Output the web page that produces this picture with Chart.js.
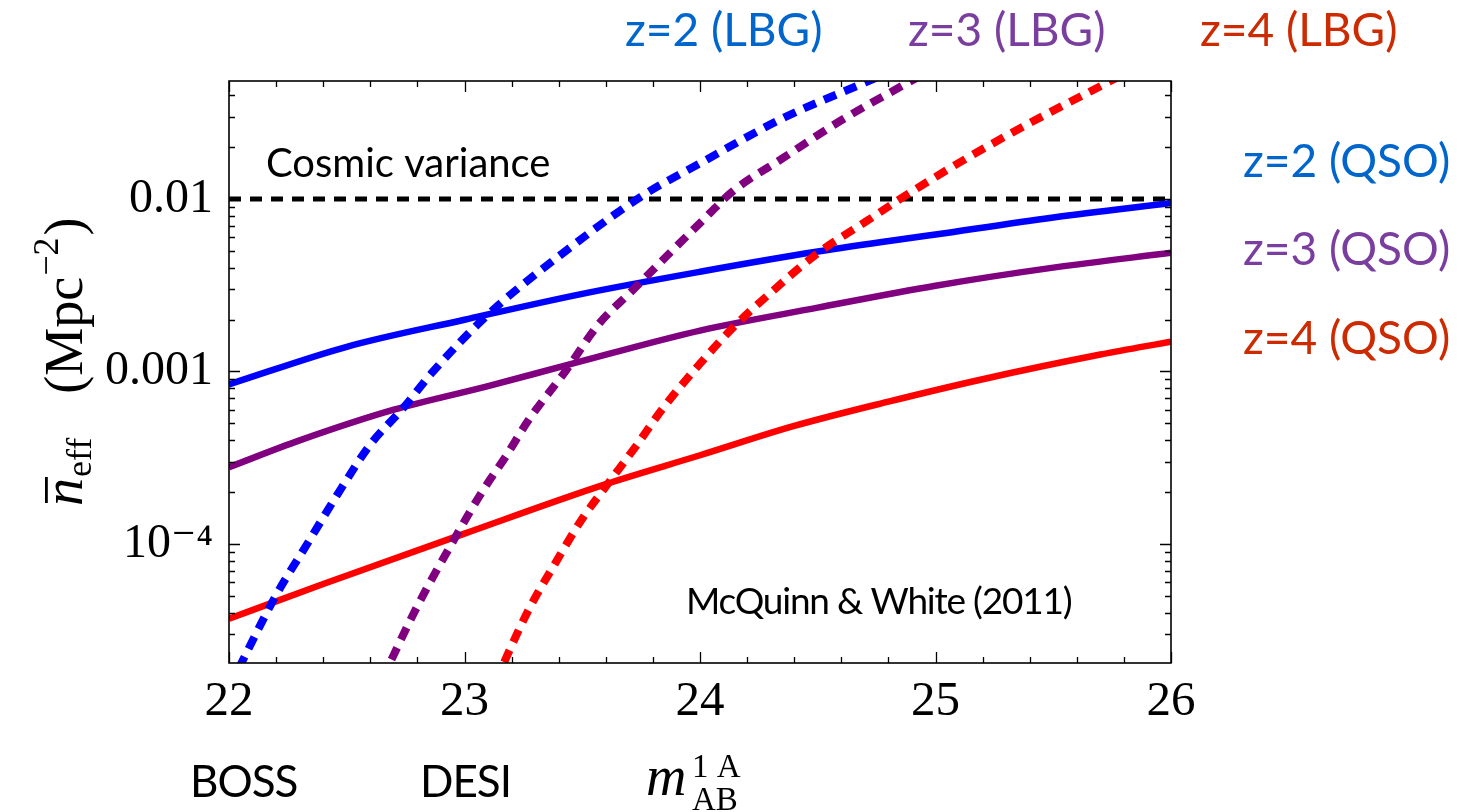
<!DOCTYPE html>
<html><head><meta charset="utf-8">
<script src="https://cdn.jsdelivr.net/npm/chart.js@4/dist/chart.umd.min.js"></script>
<style>html,body{margin:0;padding:0;background:#fff;}#wrap{width:1481px;height:812px;position:relative;}</style>
</head><body><div id="wrap"><canvas id="c" width="1481" height="812"></canvas></div>
<script>
// ---- data ----
const qsoZ2X = [22, 22.5, 23, 23.5, 24, 24.5, 25, 25.5, 26];
const qsoZ2Y = [8.414e-4, 1.390e-3, 1.995e-3, 2.818e-3, 3.784e-3, 4.955e-3, 6.223e-3, 7.816e-3, 9.484e-3];

const qsoZ3X = [22, 22.3, 22.7, 23.1, 23.45, 24, 24.5, 25, 25.5, 26];
const qsoZ3Y = [2.786e-4, 3.981e-4, 5.998e-4, 8.222e-4, 1.102e-3, 1.726e-3, 2.344e-3, 3.141e-3, 3.999e-3, 4.875e-3];

const qsoZ4X = [22, 22.4, 23, 23.6, 24, 24.4, 24.8, 25.2, 25.7, 26];
const qsoZ4Y = [3.681e-5, 5.861e-5, 1.148e-4, 2.223e-4, 3.266e-4, 4.831e-4, 6.683e-4, 9.016e-4, 1.253e-3, 1.489e-3];

const lbgZ2X = [22.0, 22.2, 22.33, 22.47, 22.6, 22.74, 22.86, 23.1, 23.4, 23.75, 24.0, 24.35, 24.7, 25.0];
const lbgZ2Y = [1.46e-5, 5.05e-5, 9.89e-5, 2.03e-4, 3.77e-4, 6.14e-4, 9.77e-4, 2.14e-3, 4.65e-3, 1.033e-2, 1.61e-2, 2.93e-2, 4.73e-2, 7.08e-2];

const lbgZ3X = [22.65, 22.8, 22.96, 23.07, 23.18, 23.27, 23.43, 23.57, 23.71, 23.84, 24.0, 24.14, 24.35, 24.6, 24.88, 25.1];
const lbgZ3Y = [1.64e-5, 4.36e-5, 1.086e-4, 1.96e-4, 3.29e-4, 5.18e-4, 1.009e-3, 1.884e-3, 2.92e-3, 4.40e-3, 7.24e-3, 1.109e-2, 1.718e-2, 2.86e-2, 4.70e-2, 6.9e-2];

const lbgZ4X = [23.13, 23.27, 23.39, 23.5, 23.6, 23.73, 23.84, 24.0, 24.14, 24.29, 24.5, 24.71, 24.85, 25.13, 25.41, 25.74, 26.0];
const lbgZ4Y = [1.58e-5, 4.09e-5, 7.92e-5, 1.40e-4, 2.15e-4, 3.72e-4, 6.05e-4, 1.11e-3, 1.795e-3, 2.78e-3, 4.85e-3, 7.48e-3, 1.0e-2, 1.714e-2, 2.80e-2, 4.81e-2, 7.4e-2];

const cosmicX = [22, 26];
const cosmicY = [0.01, 0.01];

const xTicks = [22, 23, 24, 25, 26];
const xMinorTicks = [22.2,22.4,22.6,22.8,23.2,23.4,23.6,23.8,24.2,24.4,24.6,24.8,25.2,25.4,25.6,25.8];
const yTicks = [1e-4, 1e-3, 1e-2];
const yTickLabels = ['10\u207B\u2074', '0.001', '0.01'];
const yMinorTicks = [3e-5,4e-5,5e-5,6e-5,7e-5,8e-5,9e-5,2e-4,3e-4,4e-4,5e-4,6e-4,7e-4,8e-4,9e-4,2e-3,3e-3,4e-3,5e-3,6e-3,7e-3,8e-3,9e-3,2e-2,3e-2,4e-2];
const yMin = 2.04e-5, yMax = 0.0483;

const pts = (xs, ys) => xs.map((x, i) => ({x, y: ys[i]}));

const SERIF = '"Liberation Serif", "DejaVu Serif", serif';
const SANS = 'Lato, "Open Sans", sans-serif';

const annot = {
  id: 'annot',
  afterDraw(chart) {
    const {ctx, chartArea: a, scales: {x, y}} = chart;
    ctx.save();
    // frame
    ctx.strokeStyle = '#000';
    ctx.lineWidth = 1.6;
    ctx.strokeRect(a.left, a.top, a.right - a.left, a.bottom - a.top);
    // ticks inside
    ctx.lineWidth = 1.3;
    ctx.beginPath();
    const xt = (v, L) => {
      const p = Math.round(x.getPixelForValue(v)) + 0.5;
      ctx.moveTo(p, a.bottom); ctx.lineTo(p, a.bottom - L);
      ctx.moveTo(p, a.top); ctx.lineTo(p, a.top + L);
    };
    const yt = (v, L) => {
      const p = Math.round(y.getPixelForValue(v)) + 0.5;
      ctx.moveTo(a.left, p); ctx.lineTo(a.left + L, p);
      ctx.moveTo(a.right, p); ctx.lineTo(a.right - L, p);
    };
    xTicks.forEach(v => xt(v, 11));
    xMinorTicks.forEach(v => xt(v, 6));
    yTicks.forEach(v => yt(v, 11));
    yMinorTicks.forEach(v => yt(v, 6));
    ctx.stroke();

    // annotation texts
    ctx.textBaseline = 'alphabetic';
    ctx.textAlign = 'left';
    ctx.fillStyle = '#000';
    ctx.font = '40px ' + SANS;
    ctx.fillText('Cosmic variance', 266, 177);
    ctx.font = '37px ' + SANS;
    ctx.letterSpacing = '-1.2px';
    ctx.fillText('McQuinn & White (2011)', 686, 614);
    ctx.letterSpacing = '0px';

    ctx.font = '46px ' + SANS;
    ctx.fillStyle = '#0066CC'; ctx.fillText('z=2 (LBG)', 625, 46);
    ctx.fillStyle = '#7A3E9F'; ctx.fillText('z=3 (LBG)', 908, 46);
    ctx.fillStyle = '#CC2A00'; ctx.fillText('z=4 (LBG)', 1200, 46);
    ctx.fillStyle = '#0066CC'; ctx.fillText('z=2 (QSO)', 1243, 177);
    ctx.fillStyle = '#7A3E9F'; ctx.fillText('z=3 (QSO)', 1243, 265);
    ctx.fillStyle = '#CC2A00'; ctx.fillText('z=4 (QSO)', 1243, 354);

    ctx.fillStyle = '#000';
    ctx.font = '44px ' + SANS;
    ctx.letterSpacing = '-1px';
    ctx.fillText('BOSS', 190, 797);
    ctx.fillText('DESI', 420, 797);
    ctx.letterSpacing = '0px';

    // m_AB^{1 A}
    ctx.font = 'italic 56px ' + SERIF;
    ctx.fillText('m', 646, 795);
    ctx.font = '33px ' + SERIF;
    ctx.fillText('1 A', 692, 777);
    ctx.fillText('AB', 692, 810);

    // y-axis title (rotated)
    ctx.translate(82, 506);
    ctx.rotate(-Math.PI / 2);
    let cx = 0;
    ctx.font = 'italic 56px ' + SERIF;
    const wn = ctx.measureText('n').width;
    ctx.fillText('n', cx, 0);
    ctx.fillRect(cx + 3, -37, wn - 2, 2.8);
    cx += wn + 1;
    ctx.font = '36px ' + SERIF;
    ctx.fillText('eff', cx, 9);
    cx += ctx.measureText('eff').width + 44;
    ctx.font = '54px ' + SERIF;
    ctx.fillText('(Mpc', cx, 0);
    cx += ctx.measureText('(Mpc').width + 1;
    ctx.font = '36px ' + SERIF;
    ctx.fillText('\u22122', cx, -24);
    cx += ctx.measureText('\u22122').width + 2;
    ctx.font = '54px ' + SERIF;
    ctx.fillText(')', cx, 0);
    ctx.restore();
  }
};

const solid = (data, color) => ({
  data, borderColor: color, borderWidth: 6.5, pointRadius: 0, fill: false,
  cubicInterpolationMode: 'monotone', clip: 0
});
const dotted = (data, color) => ({
  data, borderColor: color, borderWidth: 8, borderDash: [13, 9], borderCapStyle: 'butt',
  pointRadius: 0, fill: false, cubicInterpolationMode: 'monotone', clip: 0
});

new Chart(document.getElementById('c'), {
  type: 'line',
  data: {
    datasets: [
      Object.assign(dotted(pts(lbgZ2X, lbgZ2Y), '#0000FF'), {order: 1}),
      Object.assign(dotted(pts(lbgZ3X, lbgZ3Y), '#800080'), {order: 2}),
      Object.assign(dotted(pts(lbgZ4X, lbgZ4Y), '#FF0000'), {order: 3}),
      Object.assign(solid(pts(qsoZ2X, qsoZ2Y), '#0000FF'), {order: 4}),
      Object.assign(solid(pts(qsoZ3X, qsoZ3Y), '#800080'), {order: 5}),
      Object.assign(solid(pts(qsoZ4X, qsoZ4Y), '#FF0000'), {order: 6}),
      {data: pts(cosmicX, cosmicY), borderColor: '#000', borderWidth: 5, borderDash: [12, 9],
       pointRadius: 0, fill: false, clip: 0, order: 7}
    ]
  },
  options: {
    responsive: false,
    animation: false,
    layout: {padding: {left: 0, top: 81, right: 310, bottom: 0}},
    plugins: {legend: {display: false}, tooltip: {enabled: false}},
    scales: {
      x: {
        type: 'linear', min: 22, max: 26,
        grid: {display: false, drawTicks: false},
        border: {display: false},
        afterBuildTicks: s => { s.ticks = xTicks.map(v => ({value: v})); },
        afterFit: s => { s.height = 149; },
        ticks: {padding: 10, color: '#000', font: {family: SERIF, size: 49}, maxRotation: 0,
                callback: v => String(v)}
      },
      y: {
        type: 'logarithmic', min: yMin, max: yMax,
        grid: {display: false, drawTicks: false},
        border: {display: false},
        afterBuildTicks: s => { s.ticks = yTicks.map(v => ({value: v})); },
        afterFit: s => { s.width = 229; },
        ticks: {padding: 16, color: '#000', font: {family: SERIF, size: 48},
                callback: v => { const i = yTicks.findIndex(t => Math.abs(t - v) / t < 1e-6); return i >= 0 ? yTickLabels[i] : ''; }}
      }
    }
  },
  plugins: [annot]
});
</script>
</body></html>
